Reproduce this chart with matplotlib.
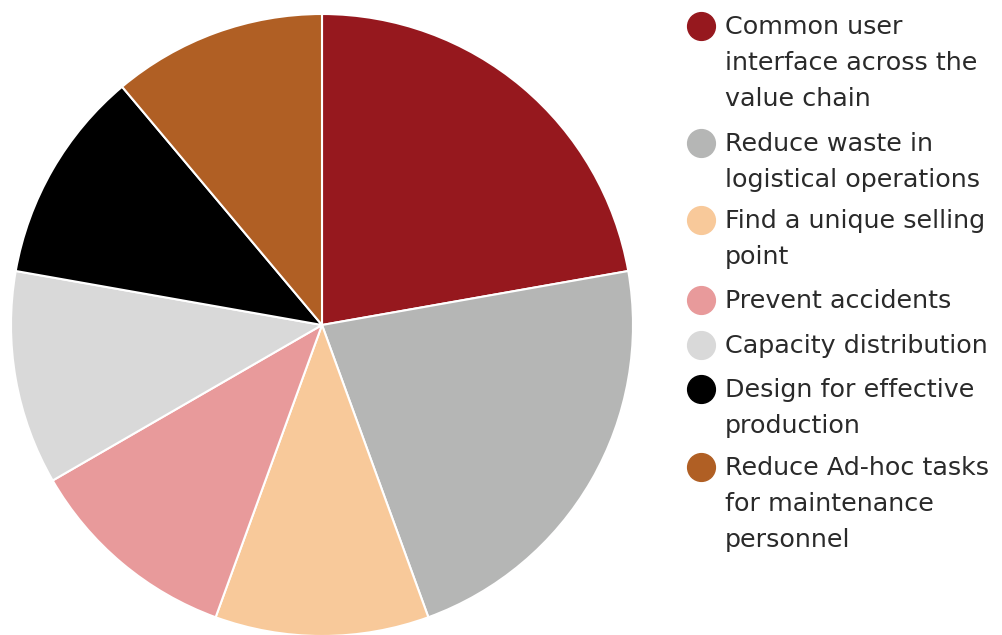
import matplotlib
matplotlib.use("Agg")
import matplotlib.pyplot as plt
from matplotlib.lines import Line2D

categories = [
    "Common user\ninterface across the\nvalue chain",
    "Reduce waste in\nlogistical operations",
    "Find a unique selling\npoint",
    "Prevent accidents",
    "Capacity distribution",
    "Design for effective\nproduction",
    "Reduce Ad-hoc tasks\nfor maintenance\npersonnel",
]
values = [2, 2, 1, 1, 1, 1, 1]
colors = ["#96181e", "#b5b6b5", "#f8c99a", "#e89a9b", "#d9d9d9", "#000000", "#b05f24"]

W, H = 1003, 635
fig = plt.figure(figsize=(W / 100, H / 100), dpi=100)

cx, cy, r = 322, 325, 311
ax = fig.add_axes([(cx - r) / W, (H - cy - r) / H, 2 * r / W, 2 * r / H])
ax.pie(values, colors=colors, startangle=90, counterclock=False,
       wedgeprops=dict(edgecolor="white", linewidth=1.5), radius=1.0)
ax.set_xlim(-1, 1)
ax.set_ylim(-1, 1)
ax.set_aspect("equal")
ax.axis("off")

# legend
first_y = [26, 143, 220, 300, 345, 389, 467]
line_h = 36
mx, tx = 701, 725
for lab, col, y0 in zip(categories, colors, first_y):
    fig.add_artist(Line2D([mx / W], [1 - y0 / H], marker="o", markersize=20,
                          color=col, markeredgecolor=col, transform=fig.transFigure))
    for i, line in enumerate(lab.split("\n")):
        y = y0 + i * line_h + 1
        fig.text(tx / W, 1 - y / H, line, fontsize=18.3, color="#2a2a2a",
                 ha="left", va="center", family="DejaVu Sans")

fig.savefig("out.png", dpi=100)
